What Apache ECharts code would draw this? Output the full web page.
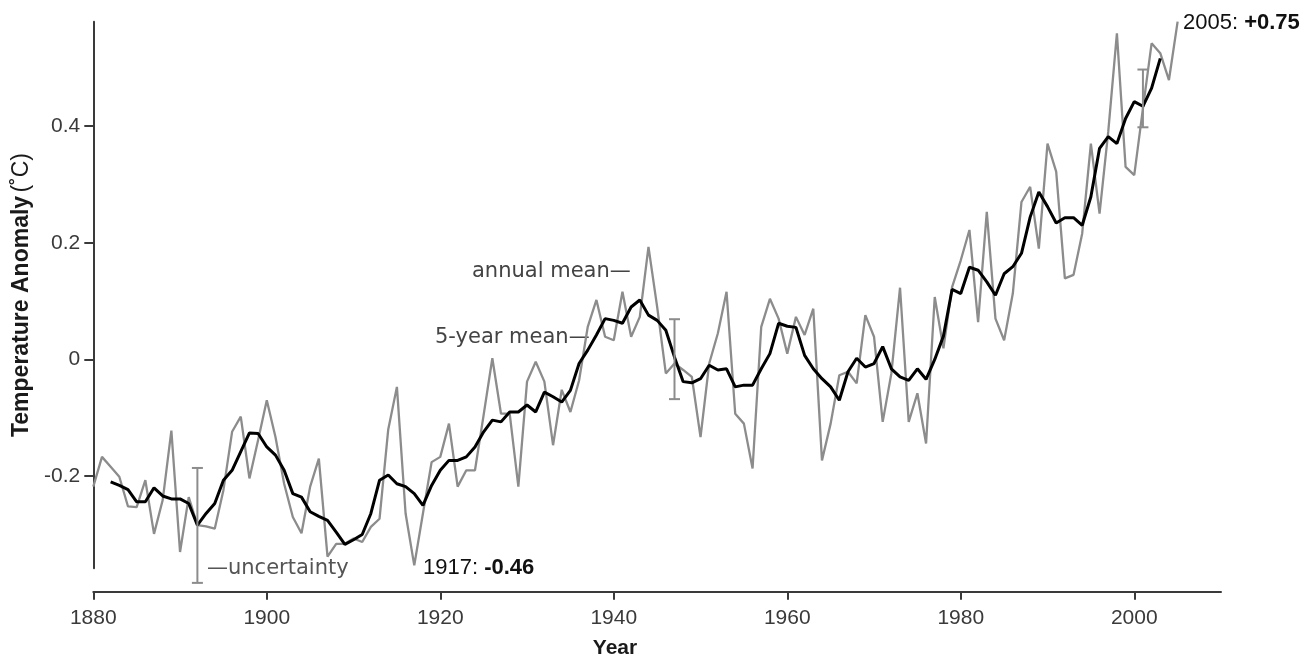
<!DOCTYPE html>
<html><head><meta charset="utf-8">
<script src="https://cdn.jsdelivr.net/npm/echarts@6/dist/echarts.min.js"></script>
<style>html,body{margin:0;padding:0;background:#fff}#c{width:1306px;height:657px}</style>
</head><body><div id="c"></div>
<script>
// ---- data ----
const annualStartYear = 1880;
const annualMean = [
  -0.218,-0.167,-0.184,-0.201,-0.252,-0.253,-0.207,-0.299,-0.241,-0.122,
  -0.330,-0.236,-0.284,-0.286,-0.290,-0.224,-0.124,-0.098,-0.204,-0.138,
  -0.070,-0.133,-0.213,-0.270,-0.298,-0.218,-0.170,-0.338,-0.316,-0.316,
  -0.307,-0.313,-0.287,-0.273,-0.120,-0.047,-0.264,-0.353,-0.264,-0.176,
  -0.167,-0.110,-0.218,-0.190,-0.190,-0.095,0.002,-0.093,-0.093,-0.218,
  -0.038,-0.004,-0.038,-0.147,-0.052,-0.090,-0.036,0.056,0.102,0.039,
  0.033,0.116,0.039,0.073,0.193,0.090,-0.024,-0.007,-0.018,-0.030,
  -0.133,-0.007,0.045,0.116,-0.093,-0.110,-0.187,0.056,0.104,0.070,
  0.010,0.073,0.042,0.087,-0.173,-0.110,-0.027,-0.021,-0.041,0.076,
  0.039,-0.107,-0.024,0.123,-0.107,-0.058,-0.144,0.107,0.019,0.124,
  0.170,0.222,0.064,0.253,0.070,0.033,0.113,0.270,0.296,0.190,
  0.370,0.322,0.139,0.145,0.216,0.370,0.250,0.390,0.559,0.330,
  0.316,0.430,0.542,0.525,0.479,0.579
];
const fiveYearStartYear = 1882;
const fiveYearMean = [
  -0.210,-0.216,-0.223,-0.244,-0.244,-0.220,-0.234,-0.239,
  -0.239,-0.247,-0.284,-0.264,-0.247,-0.207,-0.190,-0.158,-0.126,-0.127,
  -0.150,-0.164,-0.190,-0.230,-0.236,-0.261,-0.269,-0.276,-0.296,-0.317,
  -0.309,-0.300,-0.264,-0.207,-0.198,-0.213,-0.218,-0.230,-0.250,-0.216,
  -0.190,-0.173,-0.173,-0.167,-0.150,-0.124,-0.104,-0.107,-0.090,-0.090,
  -0.078,-0.090,-0.056,-0.064,-0.073,-0.053,-0.007,0.016,0.042,0.070,
  0.067,0.062,0.090,0.102,0.076,0.067,0.050,0.004,-0.038,-0.040,
  -0.033,-0.010,-0.018,-0.016,-0.047,-0.044,-0.044,-0.016,0.010,0.062,
  0.057,0.055,0.007,-0.016,-0.033,-0.047,-0.070,-0.021,0.002,-0.013,
  -0.007,0.022,-0.016,-0.030,-0.036,-0.016,-0.034,0.000,0.040,0.120,
  0.113,0.158,0.153,0.133,0.110,0.147,0.159,0.182,0.244,0.287,
  0.262,0.234,0.243,0.243,0.230,0.279,0.362,0.382,0.370,0.413,
  0.442,0.434,0.465,0.516
];
const uncertaintyYears = [1892, 1947, 2001];
const uncertaintyLow  = [-0.383, -0.068, 0.398];
const uncertaintyHigh = [-0.186, 0.069, 0.497];
const xTickYears = [1880, 1900, 1920, 1940, 1960, 1980, 2000];
const yTickValues = [-0.2, 0, 0.2, 0.4];

// ---- build ----
const annualData = annualMean.map((v, i) => [annualStartYear + i, v]);
const fiveData = fiveYearMean.map((v, i) => [fiveYearStartYear + i, v]);
const errData = uncertaintyYears.map((y, i) => [y, uncertaintyLow[i], uncertaintyHigh[i]]);

const TICKFONT = 'Liberation Sans';
const chart = echarts.init(document.getElementById('c'), null, {renderer: 'canvas'});
chart.setOption({
  animation: false,
  backgroundColor: '#ffffff',
  grid: {left: 93.3, top: 21.7, width: 1127.7, height: 546.6, containLabel: false},
  xAxis: {
    type: 'value', min: 1880, max: 2010, offset: 23.4,
    axisLine: {show: true, onZero: false, lineStyle: {color: '#3a3a3a', width: 2}},
    axisTick: {show: true, length: 8, customValues: xTickYears, lineStyle: {color: '#3a3a3a', width: 2}},
    axisLabel: {customValues: xTickYears, margin: 16, color: '#3a3a3a', fontFamily: TICKFONT, fontSize: 21,
      formatter: v => String(Math.round(v))},
    splitLine: {show: false}
  },
  yAxis: {
    type: 'value', min: -0.358, max: 0.579,
    axisLine: {show: true, onZero: false, lineStyle: {color: '#3a3a3a', width: 2}},
    axisTick: {show: true, length: 9, customValues: yTickValues, lineStyle: {color: '#3a3a3a', width: 2}},
    axisLabel: {customValues: yTickValues, margin: 13, color: '#3a3a3a', fontFamily: TICKFONT, fontSize: 21,
      formatter: v => (Math.abs(v) < 1e-9 ? '0' : v.toFixed(1))},
    splitLine: {show: false},
    name: '{b|Temperature Anomaly} {r|(˚C)}',
    nameLocation: 'middle', nameRotate: 90, nameGap: 60,
    nameTextStyle: {rich: {
      b: {fontFamily: TICKFONT, fontWeight: 'bold', fontSize: 23, color: '#1a1a1a'},
      r: {fontFamily: TICKFONT, fontSize: 23, color: '#1a1a1a'}
    }}
  },
  series: [
    {type: 'line', data: annualData, showSymbol: false, symbol: 'none',
     lineStyle: {color: '#8c8c8c', width: 2.3}, z: 2},
    {type: 'line', data: fiveData, showSymbol: false, symbol: 'none',
     lineStyle: {color: '#000000', width: 3}, z: 3},
    {type: 'custom', data: errData, clip: false, z: 4,
     renderItem: function (params, api) {
       const x = api.value(0);
       const pLo = api.coord([x, api.value(1)]);
       const pHi = api.coord([x, api.value(2)]);
       const w = 5.5;
       const style = {stroke: '#8c8c8c', lineWidth: 2, fill: null};
       return {type: 'group', children: [
         {type: 'line', shape: {x1: pLo[0], y1: pLo[1], x2: pHi[0], y2: pHi[1]}, style: style},
         {type: 'line', shape: {x1: pLo[0] - w, y1: pLo[1], x2: pLo[0] + w, y2: pLo[1]}, style: style},
         {type: 'line', shape: {x1: pHi[0] - w, y1: pHi[1], x2: pHi[0] + w, y2: pHi[1]}, style: style}
       ]};
     }}
  ],
  graphic: [
    {type: 'text', x: 472, y: 272, style: {text: 'annual mean—', font: '21px "DejaVu Sans"', fill: '#444', verticalAlign: 'middle'}},
    {type: 'text', x: 435, y: 338, style: {text: '5-year mean—', font: '21px "DejaVu Sans"', fill: '#444', verticalAlign: 'middle'}},
    {type: 'text', x: 207, y: 569, style: {text: '—uncertainty', font: '21px "DejaVu Sans"', fill: '#555', verticalAlign: 'middle'}},
    {type: 'text', x: 423, y: 568, style: {
      text: '{r|1917: }{b|-0.46}', verticalAlign: 'middle',
      rich: {r: {fontFamily: TICKFONT, fontSize: 22, fill: '#111'},
             b: {fontFamily: TICKFONT, fontSize: 22, fontWeight: 'bold', fill: '#111'}}}},
    {type: 'text', x: 1183, y: 23, style: {
      text: '{r|2005: }{b|+0.75}', verticalAlign: 'middle',
      rich: {r: {fontFamily: TICKFONT, fontSize: 22, fill: '#111'},
             b: {fontFamily: TICKFONT, fontSize: 22, fontWeight: 'bold', fill: '#111'}}}},
    {type: 'text', x: 615, y: 648, style: {text: 'Year', font: 'bold 21px "Liberation Sans"', fill: '#1a1a1a', align: 'center', verticalAlign: 'middle'}}
  ]
});
</script></body></html>
